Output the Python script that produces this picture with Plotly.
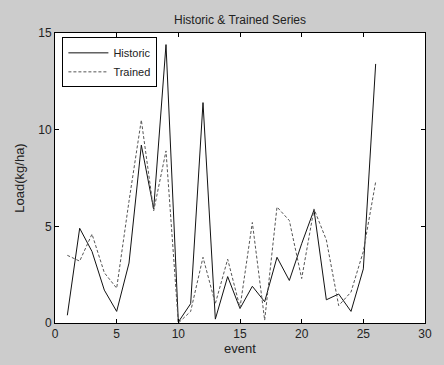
import plotly.graph_objects as go

events = list(range(1, 27))
historic = [0.4, 4.9, 3.7, 1.7, 0.6, 3.1, 9.2, 5.9, 14.4, 0.05, 1.0, 11.4, 0.2,
            2.4, 0.75, 1.9, 1.1, 3.4, 2.2, 4.1, 5.85, 1.2, 1.5, 0.6, 2.8, 13.4]
trained = [3.5, 3.2, 4.6, 2.6, 1.8, 6.3, 10.5, 5.8, 8.9, 0.0, 0.6, 3.4, 1.0,
           3.3, 0.8, 5.2, 0.15, 6.0, 5.3, 2.3, 5.9, 4.3, 0.9, 1.6, 3.7, 7.3]

fig = go.Figure()
fig.add_trace(go.Scatter(x=events, y=historic, mode="lines", name="Historic",
                         line=dict(color="#111111", width=1)))
fig.add_trace(go.Scatter(x=events, y=trained, mode="lines", name="Trained",
                         line=dict(color="#555555", width=1, dash="3px,2px")))

font = dict(family="Liberation Sans, Arial, sans-serif", size=11, color="#222222")
fig.update_layout(
    width=444, height=365,
    margin=dict(l=55, r=15, t=33, b=37),
    paper_bgcolor="#cccccc", plot_bgcolor="white",
    font=font,
    title=dict(text="Historic & Trained Series", x=0.5, xref="paper",
               y=1, yref="paper", yanchor="bottom", pad=dict(b=9),
               font=dict(family="Liberation Sans, Arial, sans-serif", size=12, color="#222222")),
    showlegend=True,
    legend=dict(x=0.02, y=0.985, xanchor="left", yanchor="top",
                bgcolor="white", bordercolor="black", borderwidth=1,
                font=dict(size=11), itemwidth=40, tracegroupgap=0),
)
fig.update_xaxes(range=[0, 30], tickvals=[0, 5, 10, 15, 20, 25, 30],
                 ticks="inside", ticklen=4, tickcolor="black", mirror="ticks",
                 showline=True, linecolor="black", linewidth=1,
                 showgrid=False, zeroline=False,
                 title=dict(text="event", standoff=2), tickfont=dict(size=12))
fig.update_yaxes(range=[0, 15], tickvals=[0, 5, 10, 15],
                 ticks="inside", ticklen=4, tickcolor="black", mirror="ticks",
                 showline=True, linecolor="black", linewidth=1,
                 showgrid=False, zeroline=False,
                 title=dict(text="Load(kg/ha)", standoff=10), tickfont=dict(size=12))

fig.write_html("out.html")
